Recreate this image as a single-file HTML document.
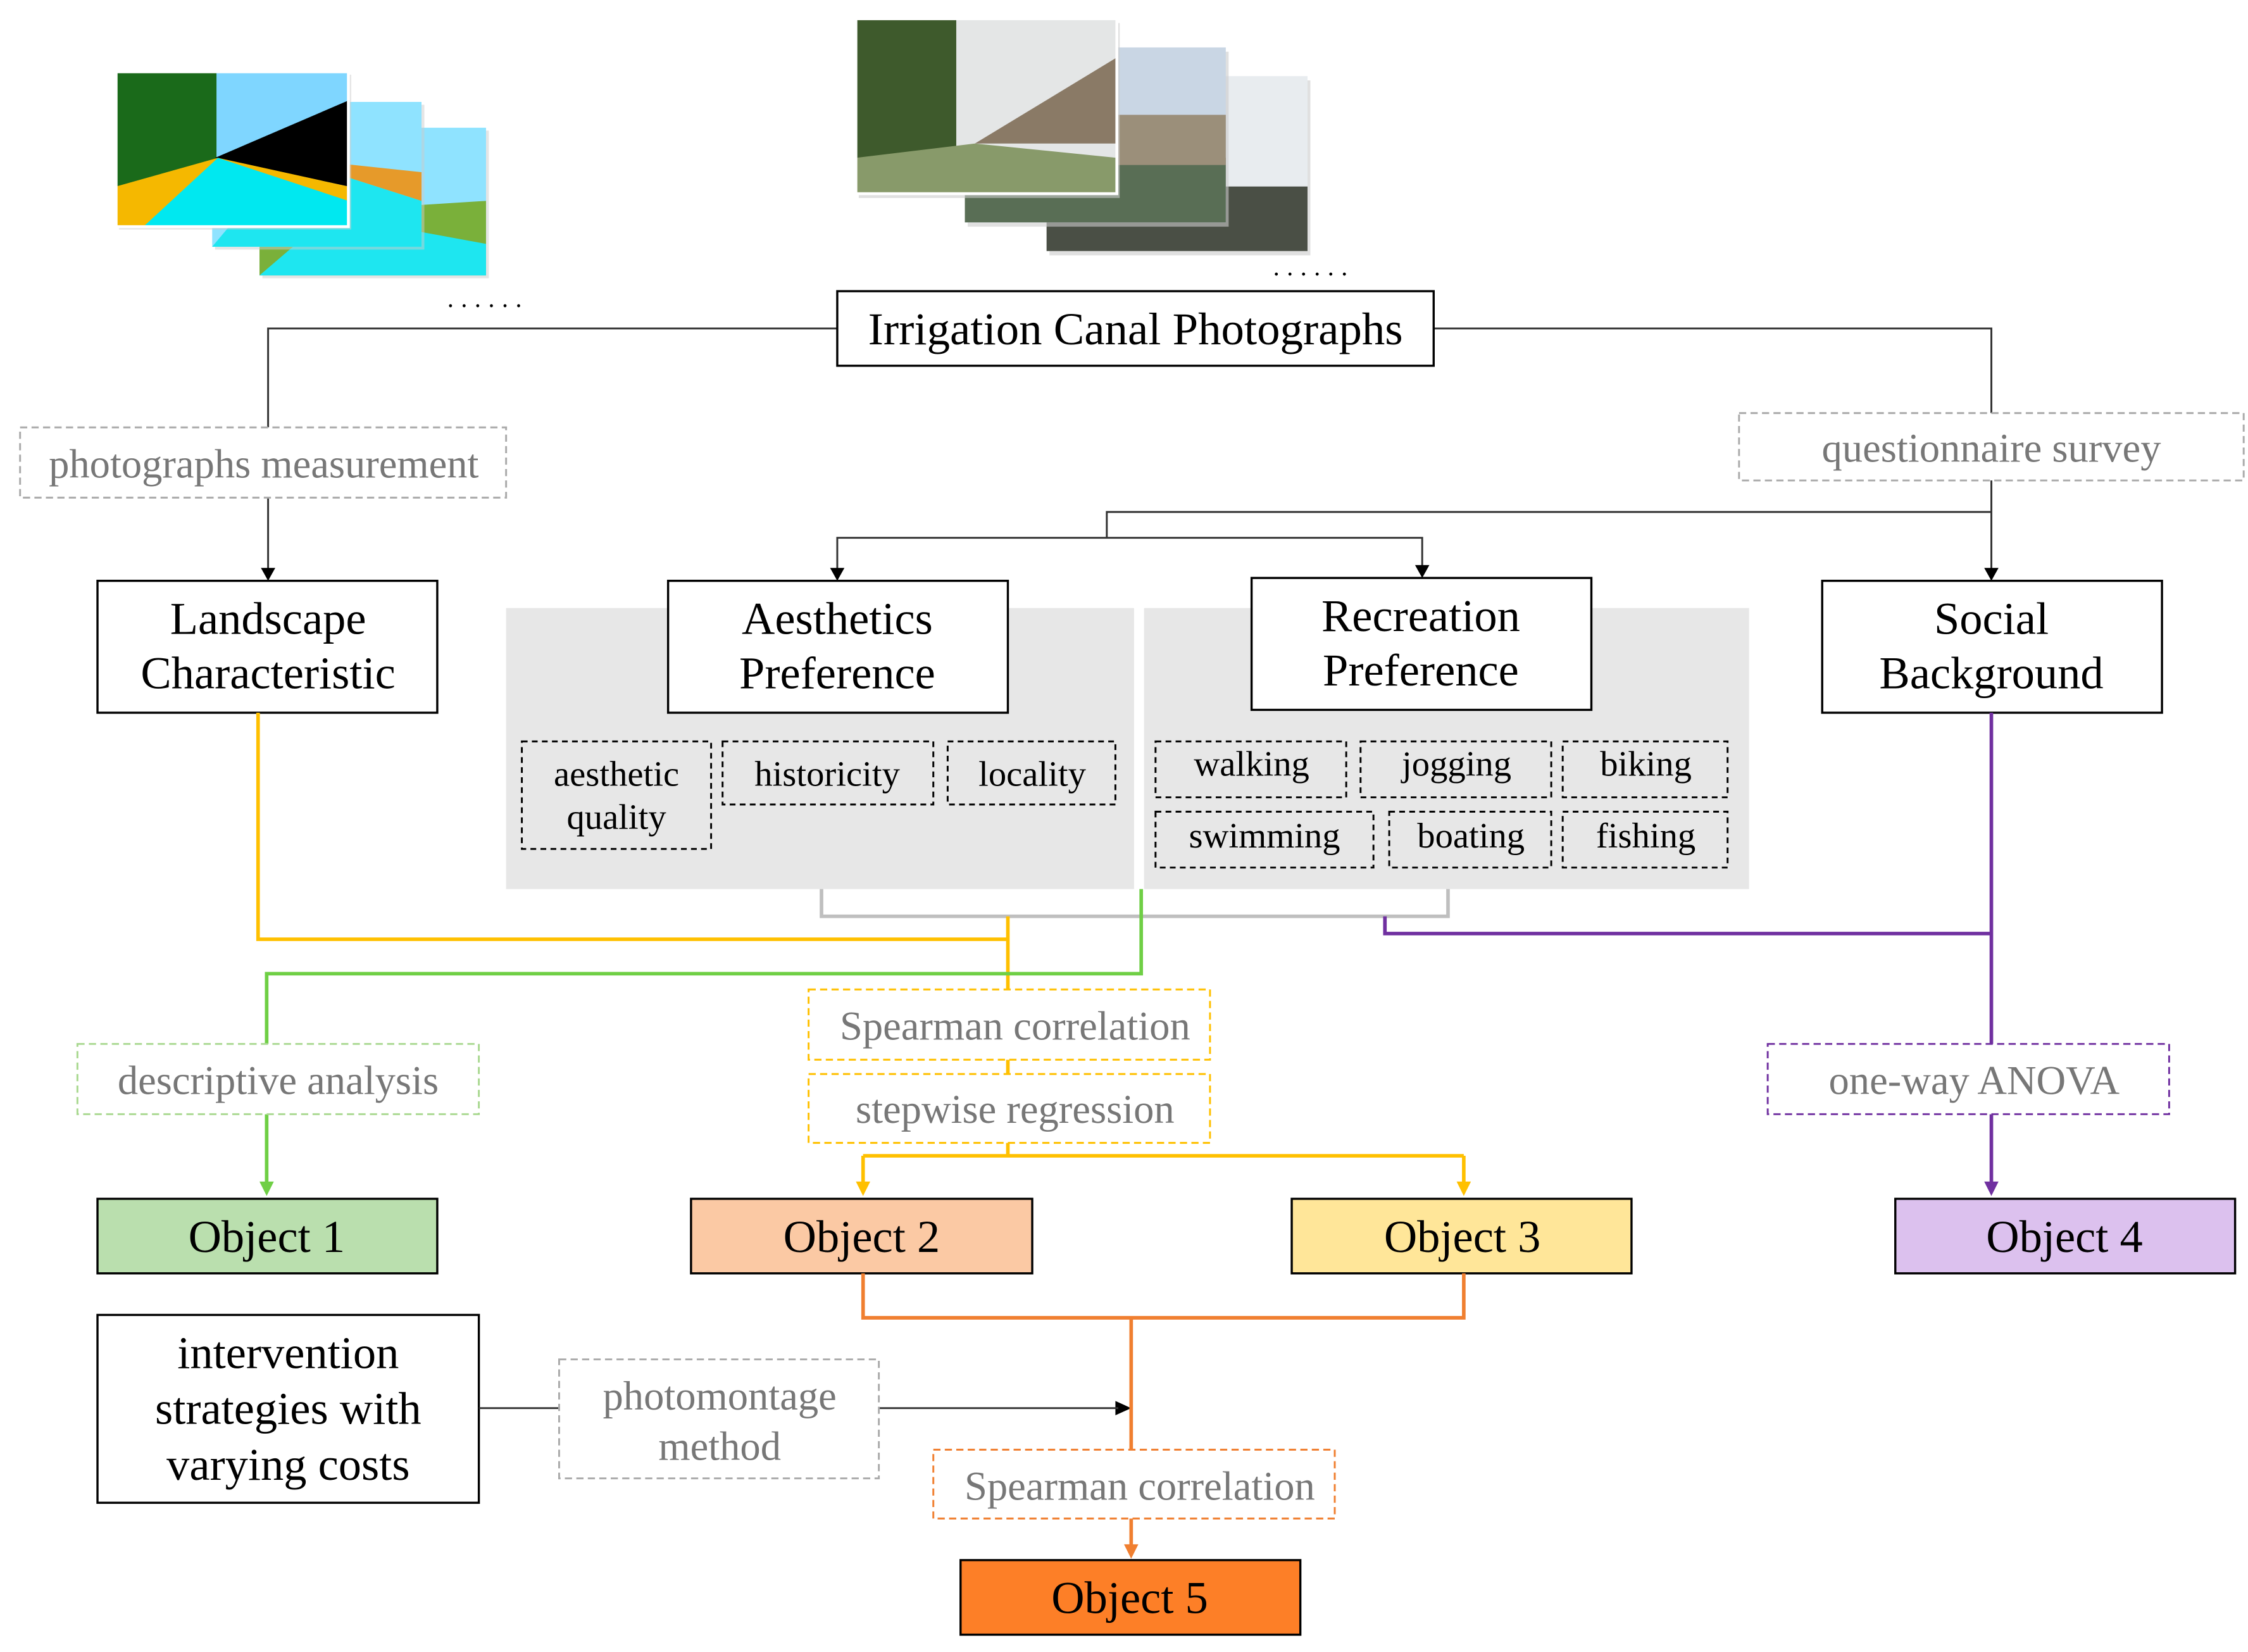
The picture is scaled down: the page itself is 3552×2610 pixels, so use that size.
<!DOCTYPE html>
<html><head><meta charset="utf-8"><style>html,body{margin:0;padding:0;background:#fff}svg{display:block}</style></head><body>
<svg width="3552" height="2610" viewBox="0 0 1568 1152" xmlns="http://www.w3.org/2000/svg" font-family="'Liberation Serif', serif">
<rect width="1568" height="1152" fill="#fff"/>
<!-- left segmentation images -->
<g>
<rect x="183" y="91" width="158" height="103" fill="#ccc" opacity="0.5"/>
<rect x="181" y="89" width="158" height="103" fill="#8fe3ff"/>
<polygon points="181,150 339,140 339,192 181,192" fill="#7ab03a"/>
<polygon points="181,192 230,150 339,170 339,192" fill="#1ee6f0"/>
<rect x="150" y="73" width="146" height="101" fill="#ccc" opacity="0.5"/>
<rect x="148" y="71" width="146" height="101" fill="#8fe3ff"/>
<polygon points="148,172 200,110 294,140 294,172" fill="#1ee6f0"/>
<polygon points="200,110 294,120 294,140" fill="#e69a2a"/>
<rect x="83" y="52" width="162" height="108" fill="#ccc" opacity="0.5"/>
<rect x="81" y="50" width="162" height="108" fill="#7fd6ff"/>
<rect x="81" y="50" width="70" height="80" fill="#1a6a1a"/>
<polygon points="150,110 243,70 243,130" fill="#000"/>
<polygon points="81,158 81,130 152,110 243,130 243,158" fill="#f5b800"/>
<polygon points="100,158 152,110 243,140 243,158" fill="#00e8f0"/>
<rect x="81" y="50" width="162" height="108" fill="none" stroke="#fff" stroke-width="2"/>
</g>
<text x="312" y="214" font-size="18" letter-spacing="5">......</text>
<!-- right photos -->
<g>
<rect x="732" y="56" width="182" height="122" fill="#ccc" opacity="0.6"/>
<rect x="730" y="53" width="182" height="122" fill="#e8ecef"/>
<rect x="730" y="130" width="182" height="45" fill="#4a4f45"/>
<rect x="675" y="36" width="182" height="122" fill="#ccc" opacity="0.6"/>
<rect x="673" y="33" width="182" height="122" fill="#c9d6e4"/>
<rect x="673" y="110" width="182" height="45" fill="#596e55"/>
<rect x="780" y="80" width="75" height="35" fill="#9b8f7a"/>
<rect x="599" y="16" width="182" height="122" fill="#ccc" opacity="0.6"/>
<rect x="597" y="13" width="182" height="122" fill="#e4e6e6"/>
<rect x="597" y="13" width="70" height="100" fill="#3e5a2c"/>
<polygon points="680,100 779,40 779,100" fill="#8a7a66"/>
<polygon points="597,135 597,110 680,100 779,110 779,135" fill="#889a6a"/>
<rect x="597" y="13" width="182" height="122" fill="none" stroke="#fff" stroke-width="2"/>
</g>
<text x="888" y="192" font-size="18" letter-spacing="5">......</text>

<g fill="none" stroke-width="1.3">
<path d="M584,229 H187 V298 M187,347 V397" stroke="#333"/>
<path d="M1000,229 H1389 V288 M1389,335 V397 M1389,357 H772 V375 M584,397 V375 H992 V395" stroke="#333"/>
</g>
<g fill="#000">
<path d="M182,396 L192,396 L187,405 z"/><path d="M1384,396 L1394,396 L1389,405 z"/>
<path d="M579,396 L589,396 L584,405 z"/><path d="M987,394 L997,394 L992,403 z"/>
<path d="M778,977 L778,987 L789,982 z"/>
</g>

<rect x="353" y="424" width="438" height="196" fill="#e7e7e7"/>
<rect x="798" y="424" width="422" height="196" fill="#e7e7e7"/>

<g stroke="#000" stroke-width="1.5" fill="#fff">
<rect x="68" y="405" width="237" height="92"/>
<rect x="466" y="405" width="237" height="92"/>
<rect x="873" y="403" width="237" height="92"/>
<rect x="1271" y="405" width="237" height="92"/>
<rect x="584" y="203" width="416" height="52"/>
<rect x="68" y="917" width="266" height="131"/>
<rect x="68" y="836" width="237" height="52" fill="#badfae"/>
<rect x="482" y="836" width="238" height="52" fill="#fbc9a4"/>
<rect x="901" y="836" width="237" height="52" fill="#ffe699"/>
<rect x="1322" y="836" width="237" height="52" fill="#dcc1ee"/>
<rect x="670" y="1088" width="237" height="52" fill="#fd7f27"/>
</g>

<g stroke="#000" stroke-width="1.3" fill="none" stroke-dasharray="4,3">
<rect x="364" y="517" width="132" height="75"/>
<rect x="504" y="517" width="147" height="44"/>
<rect x="661" y="517" width="117" height="44"/>
<rect x="806" y="517" width="133" height="39"/>
<rect x="949" y="517" width="133" height="39"/>
<rect x="1090" y="517" width="115" height="39"/>
<rect x="806" y="566" width="152" height="39"/>
<rect x="969" y="566" width="113" height="39"/>
<rect x="1090" y="566" width="115" height="39"/>
</g>

<g fill="none" stroke-width="2.5">
<path d="M573,620 V639 H1010 V620" stroke="#bfbfbf"/>
<path d="M180,497 V655 H703 M703,639 V690 M703,739 V749 M703,797 V806 M602,806 H1021 M602,806 V827 M1021,806 V827" stroke="#ffc000"/>
<path d="M796,620 V679 H186 V728 M186,777 V827" stroke="#6fcf45"/>
<path d="M1389,497 V728 M1389,651 H966 V639 M1389,777 V827" stroke="#7030a0"/>
<path d="M602,888 V919 H1021 V888 M789,919 V1011 M789,1059 V1080" stroke="#f07f30"/>
<path d="M334,982 H390 M613,982 H780" stroke="#333" stroke-width="1.3"/>
</g>
<g>
<path d="M597,824 L607,824 L602,834 z" fill="#ffc000"/>
<path d="M1016,824 L1026,824 L1021,834 z" fill="#ffc000"/>
<path d="M181,824 L191,824 L186,834 z" fill="#6fcf45"/>
<path d="M1384,824 L1394,824 L1389,834 z" fill="#7030a0"/>
<path d="M784,1077 L794,1077 L789,1087 z" fill="#f07f30"/>
</g>

<g stroke-width="1.3" fill="#fff" stroke-dasharray="5,3">
<rect x="14" y="298" width="339" height="49" stroke="#aaa"/>
<rect x="1213" y="288" width="352" height="47" stroke="#aaa"/>
<rect x="564" y="690" width="280" height="49" stroke="#ffc000"/>
<rect x="564" y="749" width="280" height="48" stroke="#ffc000"/>
<rect x="54" y="728" width="280" height="49" stroke="#a9d890"/>
<rect x="1233" y="728" width="280" height="49" stroke="#7030a0"/>
<rect x="390" y="948" width="223" height="83" stroke="#aaa"/>
<rect x="651" y="1011" width="280" height="48" stroke="#f07f30"/>
</g>

<g font-size="32" text-anchor="middle" fill="#000">
<text x="792" y="240" textLength="373" lengthAdjust="spacingAndGlyphs">Irrigation Canal Photographs</text>
<text x="187" y="442">Landscape</text><text x="187" y="480">Characteristic</text>
<text x="584" y="442">Aesthetics</text><text x="584" y="480">Preference</text>
<text x="991" y="440">Recreation</text><text x="991" y="478">Preference</text>
<text x="1389" y="442">Social</text><text x="1389" y="480">Background</text>
<text x="186" y="873">Object 1</text>
<text x="601" y="873">Object 2</text>
<text x="1020" y="873">Object 3</text>
<text x="1440" y="873">Object 4</text>
<text x="788" y="1125">Object 5</text>
<text x="201" y="954">intervention</text>
<text x="201" y="993">strategies with</text>
<text x="201" y="1032">varying costs</text>
</g>
<g font-size="25" text-anchor="middle" fill="#000">
<text x="430" y="548">aesthetic</text><text x="430" y="578">quality</text>
<text x="577" y="548">historicity</text>
<text x="720" y="548">locality</text>
<text x="873" y="541">walking</text>
<text x="1016" y="541">jogging</text>
<text x="1148" y="541">biking</text>
<text x="882" y="591">swimming</text>
<text x="1026" y="591">boating</text>
<text x="1148" y="591">fishing</text>
</g>
<g font-size="28.5" text-anchor="middle" fill="#777">
<text x="184" y="333">photographs measurement</text>
<text x="1389" y="322">questionnaire survey</text>
<text x="708" y="725">Spearman correlation</text>
<text x="708" y="783">stepwise regression</text>
<text x="194" y="763">descriptive analysis</text>
<text x="1377" y="763">one-way ANOVA</text>
<text x="502" y="983">photomontage</text>
<text x="502" y="1018">method</text>
<text x="795" y="1046">Spearman correlation</text>
</g>
</svg>
</body></html>
